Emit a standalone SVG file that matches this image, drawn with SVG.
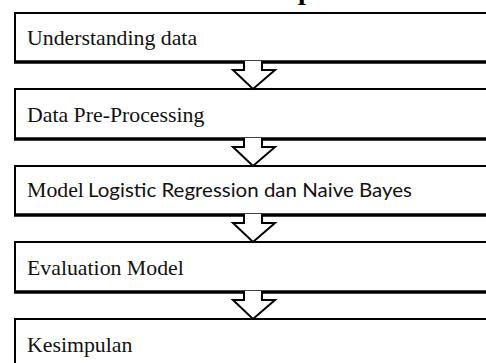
<svg xmlns="http://www.w3.org/2000/svg" width="486" height="363" viewBox="0 0 486 363">
<style>
.box{fill:#fff;stroke:#000;stroke-width:2}
.bot{stroke:#000;stroke-width:3.5}
.t{font-family:"Liberation Serif","Times New Roman",serif;font-size:21.8px;fill:#111}
.s{font-family:Lato,"Liberation Sans",Arial,sans-serif;font-size:20px;fill:#111}
.arr{fill:#fff;stroke:#000;stroke-width:2;stroke-linejoin:miter}
</style>
<text x="298" y="-1.5" style="font-family:'Liberation Serif',serif;font-weight:bold;font-size:28px">p</text>
<g id="n1"><rect class="box" x="15" y="13" width="480" height="49"/><line class="bot" x1="14" y1="62" x2="490" y2="62"/><text class="t" x="27" y="45">Understanding data</text></g>
<g id="n2"><rect class="box" x="15" y="89" width="480" height="50"/><line class="bot" x1="14" y1="139" x2="490" y2="139"/><text class="t" x="27" y="121.5">Data Pre-Processing</text></g>
<g id="n3"><rect class="box" x="15" y="166" width="480" height="49"/><line class="bot" x1="14" y1="215" x2="490" y2="215"/><text class="t" x="27" y="197">Model</text><text class="s" x="88" y="197" textLength="324" lengthAdjust="spacingAndGlyphs">Logistic Regression dan Naive Bayes</text></g>
<g id="n4"><rect class="box" x="15" y="242" width="480" height="50"/><line class="bot" x1="14" y1="292" x2="490" y2="292"/><text class="t" x="27" y="275">Evaluation Model</text></g>
<g id="n5"><rect class="box" x="15" y="319" width="480" height="60"/><text class="t" x="27" y="351.5">Kesimpulan</text></g>
<g id="connectors">
<path class="arr" d="M244,61 V70 H233 L253,89 L275,70 H262 V61"/>
<path class="arr" d="M244,138 V147 H233 L253,166 L275,147 H262 V138"/>
<path class="arr" d="M244,214 V223 H233 L253,242 L275,223 H262 V214"/>
<path class="arr" d="M244,291 V300 H233 L253,319 L275,300 H262 V291"/>
</g>
</svg>
